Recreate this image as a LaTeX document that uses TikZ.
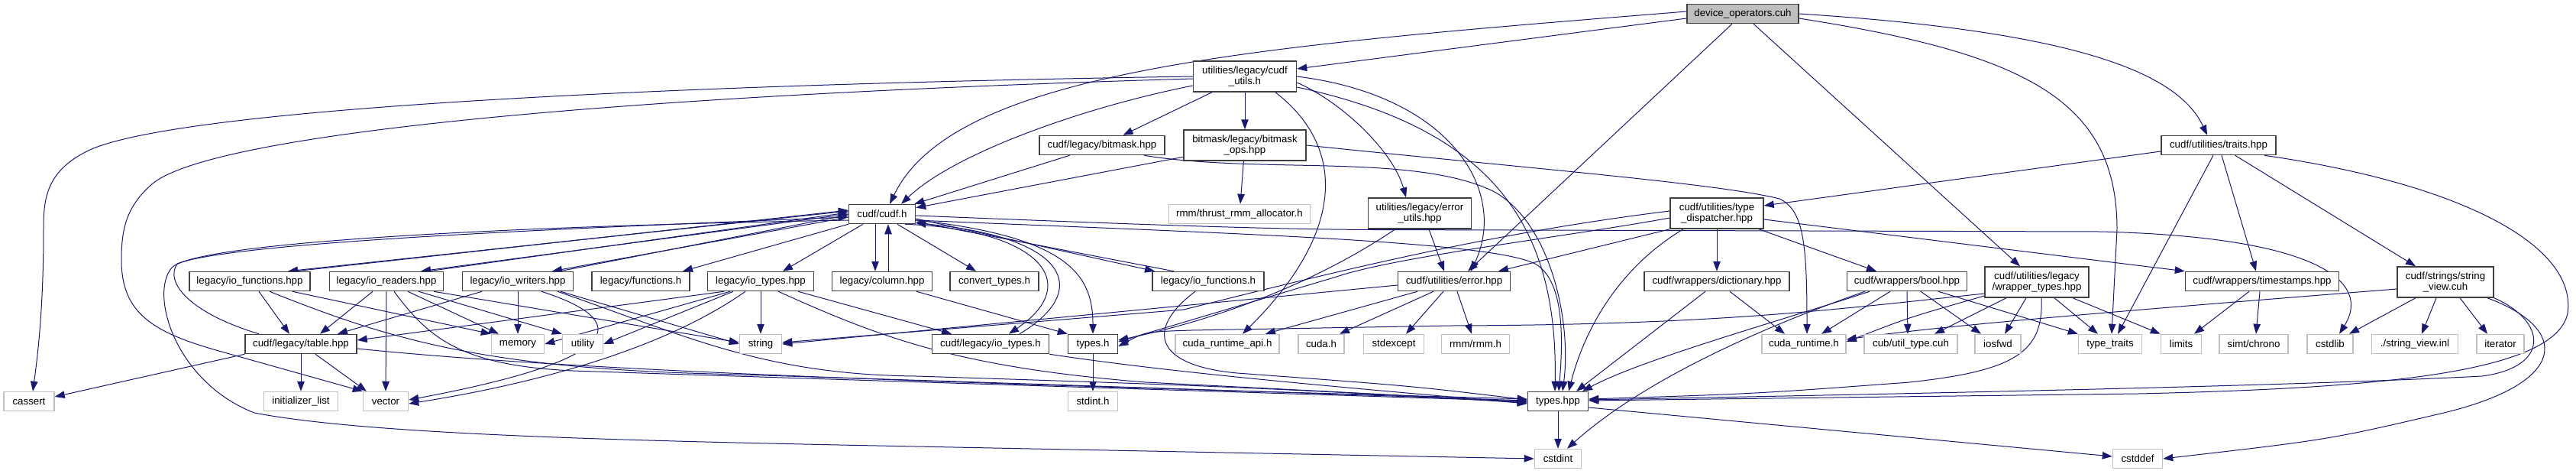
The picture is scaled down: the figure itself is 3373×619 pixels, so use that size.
\documentclass[tikz,border=0pt]{standalone}
\usepackage{fontspec}
\setmainfont{Liberation Sans}
\usetikzlibrary{arrows.meta, backgrounds}
\definecolor{edgeNavy}{HTML}{191970}
\definecolor{nodeGray}{HTML}{BFBFBF}
\definecolor{nodeDark}{HTML}{404040}

\begin{document}
\begin{tikzpicture}[x=1pt, y=-1pt,
    rootBox/.style={draw=nodeDark, line width=1.5pt, rectangle, fill=nodeGray, align=center, font=\fontsize{13.3}{14}\selectfont, inner sep=0pt, minimum height=25pt},
    fileBox/.style={draw=nodeDark, line width=1.5pt, rectangle, fill=white, align=center, font=\fontsize{13.3}{14}\selectfont, inner sep=0pt, minimum height=25pt},
    sysBox/.style={draw=nodeGray, line width=1.5pt, rectangle, fill=white, align=center, font=\fontsize{13.3}{14}\selectfont, inner sep=0pt, minimum height=25pt},
    incl/.style={draw=edgeNavy, line width=1pt, -{Triangle[length=13pt, width=9.5pt]}},
]
\useasboundingbox (0,0) rectangle (3373,619);
\node[rootBox, minimum width=146pt] (dev) at (2282,18) {device\_operators.cuh};
\node[fileBox, minimum width=135pt, minimum height=40pt] (cudfutils) at (1630,100) {utilities/legacy/cudf\\\_utils.h};
\node[fileBox, minimum width=164pt] (bitmaskhpp) at (1443,190) {cudf/legacy/bitmask.hpp};
\node[fileBox, minimum width=160pt, minimum height=40pt] (bitmaskops) at (1630,190) {bitmask/legacy/bitmask\\\_ops.hpp};
\node[fileBox, minimum width=150pt] (traits) at (2905,190) {cudf/utilities/traits.hpp};
\node[fileBox, minimum width=87pt] (cudfh) at (1155,280) {cudf/cudf.h};
\node[sysBox, minimum width=185pt] (rmmalloc) at (1623,280) {rmm/thrust\_rmm\_allocator.h};
\node[fileBox, minimum width=135pt, minimum height=40pt] (errutils) at (1859,279) {utilities/legacy/error\\\_utils.hpp};
\node[fileBox, minimum width=122pt, minimum height=40pt] (dispatch) at (2248,279) {cudf/utilities/type\\\_dispatcher.hpp};
\node[fileBox, minimum width=158pt] (iofunchpp) at (327,368) {legacy/io\_functions.hpp};
\node[fileBox, minimum width=149pt] (ioreaders) at (506,368) {legacy/io\_readers.hpp};
\node[fileBox, minimum width=145pt] (iowriters) at (678,368) {legacy/io\_writers.hpp};
\node[fileBox, minimum width=128pt] (functionsh) at (839,368) {legacy/functions.h};
\node[fileBox, minimum width=139pt] (iotypeshpp) at (996,368) {legacy/io\_types.hpp};
\node[fileBox, minimum width=131pt] (columnhpp) at (1155,368) {legacy/column.hpp};
\node[fileBox, minimum width=116pt] (converttypes) at (1302,368) {convert\_types.h};
\node[fileBox, minimum width=146pt] (iofunch) at (1582,368) {legacy/io\_functions.h};
\node[fileBox, minimum width=147pt] (errorhpp) at (1904,368) {cudf/utilities/error.hpp};
\node[fileBox, minimum width=190pt] (dictionary) at (2248,368) {cudf/wrappers/dictionary.hpp};
\node[fileBox, minimum width=157pt] (boolhpp) at (2497,368) {cudf/wrappers/bool.hpp};
\node[fileBox, minimum width=136pt, minimum height=40pt] (wrappertypes) at (2667,369) {cudf/utilities/legacy\\/wrapper\_types.hpp};
\node[fileBox, minimum width=201pt] (timestamps) at (2962,368) {cudf/wrappers/timestamps.hpp};
\node[fileBox, minimum width=126pt, minimum height=40pt] (stringview) at (3202,369) {cudf/strings/string\\\_view.cuh};
\node[fileBox, minimum width=146pt] (tablehpp) at (394,450) {cudf/legacy/table.hpp};
\node[sysBox, minimum width=69pt] (memory) at (678,450) {memory};
\node[sysBox, minimum width=53pt] (utility) at (763,450) {utility};
\node[sysBox, minimum width=55pt] (string) at (996,450) {string};
\node[fileBox, minimum width=153pt] (iotypesh) at (1297,450) {cudf/legacy/io\_types.h};
\node[fileBox, minimum width=65pt] (typesh) at (1431,450) {types.h};
\node[sysBox, minimum width=136pt] (cudaruntimeapi) at (1607,450) {cuda\_runtime\_api.h};
\node[sysBox, minimum width=60pt] (cudah) at (1730,450) {cuda.h};
\node[sysBox, minimum width=79pt] (stdexcept) at (1825,450) {stdexcept};
\node[sysBox, minimum width=89pt] (rmmh) at (1932,450) {rmm/rmm.h};
\node[sysBox, minimum width=110pt] (cudaruntime) at (2362,450) {cuda\_runtime.h};
\node[sysBox, minimum width=122pt] (utiltype) at (2502,450) {cub/util\_type.cuh};
\node[sysBox, minimum width=60pt] (iosfwd) at (2616,450) {iosfwd};
\node[sysBox, minimum width=83pt] (typetraits) at (2763,450) {type\_traits};
\node[sysBox, minimum width=53pt] (limits) at (2856,450) {limits};
\node[sysBox, minimum width=90pt] (chrono) at (2951,450) {simt/chrono};
\node[sysBox, minimum width=60pt] (cstdlib) at (3051,450) {cstdlib};
\node[sysBox, minimum width=113pt] (inl) at (3162,450) {./string\_view.inl};
\node[sysBox, minimum width=62pt] (iterator) at (3274,450) {iterator};
\node[sysBox, minimum width=66pt] (cassert) at (38,525) {cassert};
\node[sysBox, minimum width=97pt] (initlist) at (394,525) {initializer\_list};
\node[sysBox, minimum width=59pt] (vector) at (505,525) {vector};
\node[sysBox, minimum width=65pt] (stdinth) at (1431,525) {stdint.h};
\node[fileBox, minimum width=79pt] (typeshpp) at (2040,525) {types.hpp};
\node[sysBox, minimum width=61pt] (cstdint) at (2040,600) {cstdint};
\node[sysBox, minimum width=65pt] (cstddef) at (2799,600) {cstddef};

\begin{scope}[on background layer]
\fill[white] (0,0) rectangle (3373,619);
% device_operators.cuh
\draw[incl] ([yshift=-6pt]dev.west) -- ([yshift=10pt]cudfutils.east);
\draw[incl] ([yshift=3pt]dev.west) .. controls (1650,60) and (1250,90) .. ([xshift=10pt]cudfh.north);
\draw[incl] ([xshift=-14pt]dev.south) -- ([xshift=18pt]errorhpp.north);
\draw[incl] ([xshift=14pt]dev.south) -- ([xshift=-22pt]wrappertypes.north);
\draw[incl] (dev.east) .. controls (2700,40) and (2850,90) .. ([xshift=-15pt]traits.north);
\draw[incl] ([yshift=-6pt]dev.east) .. controls (2650,70) and (2772,130) .. (2772,300) -- ([xshift=2pt]typetraits.north);
% cudf_utils.h
\draw[incl] (cudfutils) -- (bitmaskhpp);
\draw[incl] (cudfutils) -- (bitmaskops);
\draw[incl] ([yshift=-12pt]cudfutils.west) .. controls (1420,140) and (1250,200) .. ([xshift=25pt]cudfh.north);
\draw[incl] (cudfutils.west) .. controls (900,110) and (250,140) .. (120,195) .. controls (60,222) and (57,260) .. (57,300) .. controls (57,400) and (50,460) .. ([xshift=5pt]cassert.north);
\draw[incl] ([yshift=-3pt]cudfutils.west) .. controls (800,125) and (280,175) .. (200,240) .. controls (165,270) and (159,300) .. (159,340) .. controls (159,410) and (200,435) .. (290,460) -- (vector.north west);
\draw[incl] ([yshift=-8pt]cudfutils.east) .. controls (1760,135) and (1825,200) .. ([xshift=-18pt]errutils.north);
\draw[incl] ([xshift=40pt]cudfutils.south) .. controls (1760,190) and (1765,300) .. ([xshift=20pt]cudaruntimeapi.north);
\draw[incl] (cudfutils.east) .. controls (1900,125) and (1975,250) .. ([xshift=22pt]errorhpp.north);
\draw[incl] ([yshift=-14pt]cudfutils.east) .. controls (1960,170) and (2040,300) .. ([xshift=-4pt]typeshpp.north);
% bitmask
\draw[incl] (bitmaskhpp) -- (cudfh);
\draw[incl] ([xshift=55pt]bitmaskhpp.south) .. controls (1650,228) and (1850,200) .. (1955,250) .. controls (2030,290) and (2058,420) .. ([xshift=6pt]typeshpp.north);
\draw[incl] (bitmaskops) -- (cudfh);
\draw[incl] (bitmaskops) -- (rmmalloc);
\draw[incl] (bitmaskops.east) .. controls (2000,220) and (2250,240) .. (2330,260) .. controls (2362,275) and (2366,320) .. ([xshift=4pt]cudaruntime.north);
% cudf/cudf.h
\draw[incl] ([yshift=4pt]cudfh.west) -- ([xshift=50pt]iofunchpp.north);
\draw[incl] ([xshift=60pt]iofunchpp.north) -- ([yshift=5pt]cudfh.west);
\draw[incl] (cudfh.west) -- ([xshift=45pt]ioreaders.north);
\draw[incl] ([xshift=55pt]ioreaders.north) -- ([yshift=2pt]cudfh.west);
\draw[incl] ([yshift=-4pt]cudfh.west) -- ([xshift=45pt]iowriters.north);
\draw[incl] ([xshift=55pt]iowriters.north) -- ([yshift=-1pt]cudfh.west);
\draw[incl] (cudfh.south west) -- ([xshift=55pt]functionsh.north);
\draw[incl] ([xshift=-25pt]cudfh.south) -- ([xshift=29pt]iotypeshpp.north);
\draw[incl] ([xshift=-9pt]cudfh.south) -- ([xshift=-9pt]columnhpp.north);
\draw[incl] ([xshift=8pt]columnhpp.north) -- ([xshift=8pt]cudfh.south);
\draw[incl] ([xshift=20pt]cudfh.south) -- ([xshift=-24pt]converttypes.north);
\draw[incl] ([xshift=30pt]cudfh.south) .. controls (1360,300) and (1420,370) .. ([xshift=24pt]iotypesh.north);
\draw[incl] ([xshift=38pt]iotypesh.north) .. controls (1430,380) and (1400,310) .. (cudfh.345);
\draw[incl] (cudfh.350) .. controls (1400,310) and (1431,360) .. (typesh.north);
\draw[incl] ([yshift=-6pt]cudfh.east) -- ([xshift=-70pt]iofunch.north);
\draw[incl] ([xshift=-45pt]iofunch.north) -- ([yshift=-10pt]cudfh.east);
\draw[incl] ([yshift=-2pt]cudfh.east) .. controls (1450,292) and (1650,300) .. (1800,300.5) -- (2750,303) .. controls (3040,310) and (3105,370) .. ([xshift=12pt]cstdlib.north);
\draw[incl] ([yshift=-8pt]cudfh.east) .. controls (1600,305) and (1950,315) .. (2010,345) .. controls (2045,365) and (2048,430) .. ([xshift=1pt]typeshpp.north);
\draw[incl] ([yshift=-8pt]cudfh.west) .. controls (700,295) and (260,315) .. (225,350) .. controls (195,385) and (230,500) .. (333,540) .. controls (500,572) and (900,578) .. (1300,586) -- (cstdint.west);
% legacy io headers
\draw[incl] ([xshift=-55pt]tablehpp.north) .. controls (250,410) and (215,370) .. (232,345) .. controls (300,318) and (700,300) .. ([yshift=-4pt]cudfh.west);
\draw[incl] ([xshift=12pt]iofunchpp.south) -- ([xshift=-15pt]tablehpp.north);
\draw[incl] ([xshift=56pt]iofunchpp.south) -- (memory.north west);
\draw[incl] ([xshift=26pt]iofunchpp.south) .. controls (500,440) and (620,478) .. (900,488) .. controls (1300,500) and (1700,514) .. ([yshift=1pt]typeshpp.west);
\draw[incl] ([xshift=-18pt]ioreaders.south) -- ([xshift=25pt]tablehpp.north);
\draw[incl] (ioreaders.south) -- (vector.north);
\draw[incl] ([xshift=28pt]ioreaders.south) -- ([xshift=-25pt]memory.north);
\draw[incl] ([xshift=42pt]ioreaders.south) -- (utility.north west);
\draw[incl] ([xshift=62pt]ioreaders.south) -- ([yshift=2pt]string.west);
\draw[incl] ([xshift=10pt]ioreaders.south) .. controls (560,440) and (600,478) .. (750,485) .. controls (1200,500) and (1700,515) .. (typeshpp.west);
\draw[incl] ([xshift=-47pt]iowriters.south) -- ([xshift=48pt]tablehpp.north);
\draw[incl] (iowriters.south) -- (memory.north);
\draw[incl] ([xshift=31pt]iowriters.south) .. controls (830,420) and (820,470) .. ([yshift=2pt]vector.east);
\draw[incl] ([xshift=56pt]iowriters.south) -- (string.west);
\draw[incl] ([xshift=52pt]iowriters.south) .. controls (900,440) and (1000,490) .. (1200,492) .. controls (1600,505) .. ([yshift=-1pt]typeshpp.west);
\draw[incl] (iotypeshpp.south) -- (string.north);
\draw[incl] ([xshift=49pt]iotypeshpp.south) -- ([xshift=-51pt]iotypesh.north);
\draw[incl] ([xshift=-48pt]iotypeshpp.south) -- ([yshift=5pt]tablehpp.east);
\draw[incl] ([xshift=-40pt]iotypeshpp.south) -- (memory.east);
\draw[incl] ([xshift=-36pt]iotypeshpp.south) -- (utility.east);
\draw[incl] ([xshift=-20pt]iotypeshpp.south) .. controls (850,470) and (650,510) .. ([yshift=-3pt]vector.east);
\draw[incl] ([xshift=23pt]iotypeshpp.south) .. controls (1150,440) and (1250,480) .. (1500,500) .. controls (1800,515) .. ([yshift=-2pt]typeshpp.west);
\draw[incl] ([xshift=45pt]columnhpp.south) -- (typesh.north west);
\draw[incl] (iotypesh.south east) .. controls (1550,490) and (1800,510) .. ([yshift=-3pt]typeshpp.west);
\draw[incl] ([xshift=-17pt]iofunch.south) .. controls (1500,430) and (1510,478) .. (1620,488) .. controls (1850,505) .. ([yshift=2pt]typeshpp.west);
\draw[incl] (typesh) -- (stdinth);
\draw[incl] (tablehpp.south west) -- ([yshift=6pt]cassert.east);
\draw[incl] (tablehpp) -- (initlist);
\draw[incl] ([xshift=19pt]tablehpp.south) -- ([xshift=-25pt]vector.north);
\draw[incl] ([yshift=-6pt]tablehpp.east) .. controls (800,490) and (1400,505) .. ([yshift=3pt]typeshpp.west);
% error headers
\draw[incl] ([xshift=12pt]errutils.south) -- ([xshift=-13pt]errorhpp.north);
\draw[incl] ([xshift=-32pt]errutils.south) .. controls (1700,385) and (1560,425) .. ([yshift=5pt]typesh.east);
\draw[incl] ([yshift=-5pt]errorhpp.west) -- (string.east);
\draw[incl] ([xshift=-48pt]errorhpp.south) -- ([xshift=50pt]cudaruntimeapi.north);
\draw[incl] ([xshift=-27pt]errorhpp.south) -- ([xshift=24pt]cudah.north);
\draw[incl] ([xshift=-14pt]errorhpp.south) -- ([xshift=16pt]stdexcept.north);
\draw[incl] ([xshift=4pt]errorhpp.south) -- ([xshift=-5pt]rmmh.north);
% type_dispatcher.hpp
\draw[incl] (dispatch.south west) -- ([xshift=58pt]errorhpp.north);
\draw[incl] ([yshift=3pt]dispatch.west) .. controls (1950,305) and (1750,355) .. (1550,405) -- ([yshift=2pt]string.east);
\draw[incl] ([yshift=-6pt]dispatch.west) .. controls (2050,310) and (1830,335) .. (1750,362) -- ([yshift=3pt]typesh.east);
\draw[incl] (dispatch) -- (dictionary);
\draw[incl] ([xshift=55pt]dispatch.south) -- ([xshift=-40pt]boolhpp.north);
\draw[incl] ([yshift=-8pt]dispatch.east) -- (timestamps.north west);
\draw[incl] ([xshift=-44pt]dispatch.south) .. controls (2120,350) and (2075,430) .. ([xshift=14pt]typeshpp.north);
% wrappers
\draw[incl] ([xshift=-15pt]dictionary.south) -- ([xshift=24pt]typeshpp.north);
\draw[incl] ([xshift=17pt]dictionary.south) -- ([xshift=-25pt]cudaruntime.north);
\draw[incl] ([xshift=-22pt]boolhpp.south) -- ([xshift=23pt]cudaruntime.north);
\draw[incl] (boolhpp.south) -- ([xshift=-4pt]utiltype.north);
\draw[incl] ([xshift=18pt]boolhpp.south) -- ([xshift=-22pt]iosfwd.north);
\draw[incl] ([xshift=41pt]boolhpp.south) -- (typetraits.north west);
\draw[incl] ([xshift=-49pt]boolhpp.south) .. controls (2330,420) and (2150,470) .. ([xshift=32pt]typeshpp.north);
\draw[incl] ([xshift=-55pt]boolhpp.south) .. controls (2330,420) and (2160,490) .. ([xshift=12pt]cstdint.north);
\draw[incl] ([yshift=-15pt]wrappertypes.west) .. controls (2400,405) and (2250,425) .. (1900,426) -- (1560,432) .. controls (1500,434) .. ([yshift=-3pt]typesh.east);
\draw[incl] ([yshift=-18pt]wrappertypes.west) .. controls (2500,415) .. ([yshift=3pt]cudaruntime.east);
\draw[incl] ([xshift=-40pt]wrappertypes.south) -- ([xshift=31pt]utiltype.north);
\draw[incl] ([xshift=-14pt]wrappertypes.south) -- ([xshift=9pt]iosfwd.north);
\draw[incl] ([xshift=23pt]wrappertypes.south) -- ([xshift=-16pt]typetraits.north);
\draw[incl] ([xshift=47pt]wrappertypes.south) -- (limits.north west);
\draw[incl] ([xshift=6pt]wrappertypes.south) .. controls (2676,460) and (2640,485) .. (2500,500) .. controls (2300,515) .. ([yshift=3pt]typeshpp.east);
% traits, timestamps, string_view
\draw[incl] ([yshift=-8pt]traits.west) -- ([yshift=10pt]dispatch.east);
\draw[incl] ([xshift=-7pt]traits.south) -- ([xshift=10pt]typetraits.north);
\draw[incl] ([xshift=4pt]traits.south) -- ([xshift=-8pt]timestamps.north);
\draw[incl] (traits) -- ([xshift=-39pt]stringview.north);
\draw[incl] ([xshift=60pt]traits.south) .. controls (3220,240) and (3375,320) .. (3362,410) .. controls (3345,490) and (3100,508) .. (2800,515) -- ([yshift=1pt]typeshpp.east);
\draw[incl] ([xshift=-17pt]timestamps.south) -- ([xshift=17pt]limits.north);
\draw[incl] ([xshift=-3pt]timestamps.south) -- ([xshift=3pt]chrono.north);
\draw[incl] ([yshift=-9pt]stringview.west) .. controls (2800,405) and (2550,425) .. ([yshift=6pt]cudaruntime.east);
\draw[incl] ([xshift=-39pt]stringview.south) -- ([xshift=25pt]cstdlib.north);
\draw[incl] ([xshift=-12pt]stringview.south) -- ([xshift=9pt]inl.north);
\draw[incl] ([xshift=19pt]stringview.south) -- ([xshift=-17pt]iterator.north);
\draw[incl] (stringview.south east) .. controls (3335,420) and (3340,480) .. (3250,492) .. controls (3000,505) and (2500,515) .. ([yshift=2pt]typeshpp.east);
\draw[incl] ([xshift=55pt]stringview.south) .. controls (3365,430) and (3365,500) .. (3200,540) .. controls (3050,575) .. (cstddef.east);
% types.hpp
\draw[incl] (typeshpp) -- (cstdint);
\draw[incl] ([yshift=-8pt]typeshpp.east) -- ([yshift=3pt]cstddef.west);
\end{scope}
\end{tikzpicture}
\end{document}
